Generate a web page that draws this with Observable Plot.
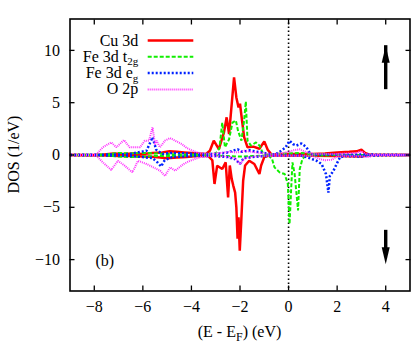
<!DOCTYPE html>
<html><head><meta charset="utf-8">
<script src="https://cdn.jsdelivr.net/npm/d3@7"></script>
<script src="https://cdn.jsdelivr.net/npm/@observablehq/plot@0.6"></script>
<style>body{margin:0;background:#fff} svg text{font-family:'Liberation Serif','Times New Roman',serif !important;}</style>
</head><body><div id="chart"></div>
<script>
// ---- data: [E - EF (eV), DOS (1/eV)] ----
const cuUp = [[-9,0],[-8,0],[-7.6,0.05],[-7.2,0.15],[-6.8,0.1],[-6.4,0.15],[-6,0.1],[-5.6,0.2],[-5.2,0.25],[-4.9,0.35],[-4.6,0.3],[-4.3,0.25],[-4,0.2],[-3.7,0.15],[-3.4,0.1],[-3.24,0.4],[-3.08,1.37],[-2.87,0.57],[-2.66,2.16],[-2.55,3.6],[-2.45,2.0],[-2.34,4.9],[-2.245,7.42],[-2.15,5.5],[-2.06,4.55],[-2.0,4.9],[-1.9,3.0],[-1.83,1.7],[-1.69,0.73],[-1.45,0.8],[-1.2,0.6],[-1.0,1.3],[-0.86,0.5],[-0.7,0.05],[-0.4,0.1],[0,0.1],[0.5,0.1],[1,0.1],[1.5,0.15],[2,0.25],[2.5,0.3],[2.8,0.35],[3.0,0.5],[3.15,0.2],[3.3,0.05],[3.5,0],[5,0]];
const cuDn = [[-9,0],[-7.5,-0.05],[-7,-0.1],[-6.5,-0.1],[-6,-0.15],[-5.5,-0.2],[-5,-0.3],[-4.6,-0.25],[-4.2,-0.2],[-3.8,-0.1],[-3.3,-0.1],[-3.14,-0.5],[-3.05,-2.77],[-2.94,-1.02],[-2.73,-1.34],[-2.59,-0.7],[-2.49,-4.05],[-2.42,-1.0],[-2.34,-2.3],[-2.28,-2.9],[-2.2,-3.6],[-2.15,-5.0],[-2.1,-8.0],[-2.06,-5.96],[-2.01,-9.15],[-1.95,-6.4],[-1.87,-2.46],[-1.79,-1.0],[-1.62,-0.55],[-1.41,-0.86],[-1.2,-1.82],[-1.13,-1.0],[-1.0,-0.2],[-0.8,-0.05],[0,-0.05],[2,-0.1],[3,-0.15],[3.3,0],[5,0]];
const t2gUp = [[-9,0],[-7.5,0.05],[-7,0.2],[-6.5,0.15],[-6,0.2],[-5.5,0.15],[-5,0.1],[-4.5,0.05],[-3.5,0.05],[-3.0,0.15],[-2.85,0.6],[-2.73,3.1],[-2.62,0.73],[-2.45,1.5],[-2.31,3.1],[-2.17,3.3],[-2.08,2.3],[-1.94,1.37],[-1.83,3.3],[-1.76,5.12],[-1.69,1.37],[-1.55,0.9],[-1.34,1.2],[-1.2,0.9],[-1.06,0.2],[-0.9,0.05],[0,0.15],[0.5,0.2],[1.0,0.1],[1.5,0.05],[2,0],[5,0]];
const t2gDn = [[-9,0],[-7.5,-0.05],[-7,-0.15],[-6.5,-0.2],[-6,-0.15],[-5.5,-0.1],[-5,-0.1],[-4,-0.05],[-3,-0.05],[-2.5,-0.1],[-2,-0.15],[-1.5,-0.1],[-1,-0.05],[-0.8,-0.1],[-0.68,-0.38],[-0.58,-1.18],[-0.37,-1.66],[-0.16,-1.82],[-0.03,-2.77],[0.04,-6.6],[0.11,-3.1],[0.16,-0.7],[0.25,-1.82],[0.39,-5.3],[0.46,-1.34],[0.57,-0.38],[0.7,-0.05],[1.5,-0.05],[2,0],[5,0]];
const egUp = [[-9,0],[-7,0.05],[-6.5,0.1],[-6.1,0.3],[-5.85,0.4],[-5.6,1.7],[-5.45,0.5],[-5.2,0.1],[-4.8,0.2],[-4.2,0.15],[-3.6,0.1],[-3,0.1],[-2.6,0.2],[-2.3,0.4],[-2.1,0.55],[-1.9,0.3],[-1.6,0.45],[-1.3,0.3],[-1.0,0.2],[-0.7,0.05],[-0.51,0.1],[-0.3,0.41],[-0.12,0.73],[0.04,1.37],[0.18,1.05],[0.32,0.9],[0.53,1.1],[0.74,0.73],[0.87,0.2],[1.0,0.05],[2,0.05],[3,0.05],[5,0]];
const egDn = [[-9,0],[-7,-0.05],[-6.5,-0.1],[-6,-0.2],[-5.6,-0.3],[-5.4,-0.7],[-5.25,-1.1],[-5.1,-0.5],[-4.8,-0.2],[-4,-0.1],[-3,-0.1],[-2.5,-0.2],[-2.2,-0.4],[-2.0,-0.85],[-1.85,-0.3],[-1.5,-0.2],[-1,-0.1],[-0.5,-0.05],[0.5,-0.05],[0.87,-0.3],[1.15,-0.55],[1.36,-0.86],[1.54,-1.82],[1.64,-3.6],[1.7,-2.0],[1.85,-1.5],[1.98,-0.86],[2.12,-0.2],[2.4,-0.1],[3,-0.15],[3.3,-0.05],[5,0]];
const o2pUp = [[-9,0],[-8.2,0.02],[-7.9,0.1],[-7.65,0.73],[-7.3,1.2],[-7.09,0.73],[-6.78,1.43],[-6.54,0.73],[-6.12,0.73],[-5.92,1.37],[-5.75,1.37],[-5.6,2.64],[-5.5,1.0],[-5.43,1.37],[-5.3,0.73],[-5.09,1.37],[-4.88,1.62],[-4.67,1.37],[-4.4,1.05],[-4.19,0.67],[-3.9,0.35],[-3.63,0.16],[-3.3,0.1],[-2.8,0.2],[-2.4,0.3],[-2.1,0.25],[-1.8,0.4],[-1.5,0.3],[-1.2,0.2],[-0.8,0.1],[-0.4,0.1],[0,0.3],[0.2,0.45],[0.45,0.55],[0.7,0.3],[1.0,0.1],[2,0.1],[2.8,0.2],[3.0,0.35],[3.2,0.1],[3.4,0],[5,0]];
const o2pDn = [[-9,0],[-8.2,-0.02],[-7.9,-0.1],[-7.65,-0.7],[-7.3,-1.43],[-7.03,-0.55],[-6.75,-1.02],[-6.43,-1.66],[-6.2,-0.55],[-5.85,-0.86],[-5.57,-1.18],[-5.29,-1.5],[-5.09,-2.0],[-4.88,-1.18],[-4.67,-1.5],[-4.32,-0.86],[-4.05,-0.54],[-3.63,-0.2],[-3.2,-0.1],[-2.6,-0.15],[-2.2,-0.3],[-2.0,-0.9],[-1.8,-0.3],[-1.4,-0.15],[-1,-0.1],[0,-0.05],[1,-0.1],[1.3,-0.4],[1.5,-0.5],[1.8,-0.45],[2.0,-0.1],[3,-0.1],[3.3,-0.2],[3.5,0],[5,0]];

const seriesNames = ["Cu 3d", "Fe 3d t", "Fe 3d e", "O 2p"];
const seriesSubs  = ["", "2g", "g", ""];
const seriesColors = ["#ff0000", "#11ee00", "#0022ff", "#ff33ff"];
const seriesDash = [null, "4,2", "2,2", "1,1"];
const seriesWidth = [2.5, 2, 2.5, 2];
const seriesData = [[cuUp, cuDn], [t2gUp, t2gDn], [egUp, egDn], [o2pUp, o2pDn]];

const xTicks = [-8, -6, -4, -2, 0, 2, 4];
const yTicks = [-10, -5, 0, 5, 10];
const spinArrows = [{E: 4, from: 7.2, to: 10.45, dir: "up"}, {E: 4, from: -7.2, to: -10.45, dir: "down"}];
const panelLabel = "(b)";
const xLabelParts = ["(E - E", "F", ") (eV)"];
const yLabel = "DOS (1/eV)";

// ---- layout ----
const W = 415, H = 349;
const mL = 69.5, mR = 5.5, mT = 18.5, mB = 58.5;
const font = "'Liberation Serif', 'Times New Roman', serif";

const arrowHead = {
  draw(ctx) { ctx.moveTo(0, 0); ctx.lineTo(4, 17); ctx.lineTo(-4, 17); ctx.closePath(); }
};

const lineMarks = [];
seriesData.forEach((pair, i) => {
  pair.forEach(arr => {
    lineMarks.push(Plot.line(arr, {
      x: d => d[0], y: d => d[1],
      stroke: seriesColors[i], strokeWidth: seriesWidth[i],
      strokeDasharray: seriesDash[i] || undefined,
      strokeLinejoin: "miter", strokeLinecap: "butt"
    }));
  });
});

const plot = Plot.plot({
  width: W, height: H,
  marginLeft: mL, marginRight: mR, marginTop: mT, marginBottom: mB,
  style: {fontFamily: font, fontSize: "16px", color: "black", background: "white"},
  x: {domain: [-9, 5], label: null},
  y: {domain: [-13, 13], label: null},
  marks: [
    Plot.ruleX([0], {stroke: "black", strokeWidth: 1.6, strokeDasharray: "1.6,2.4"}),
    ...lineMarks,
    Plot.ruleX(spinArrows.filter(d => d.dir === "up"), {x: "E", y1: "from", y2: "to", strokeWidth: 3.4, insetTop: 10}),
    Plot.ruleX(spinArrows.filter(d => d.dir === "down"), {x: "E", y1: "from", y2: "to", strokeWidth: 3.4, insetBottom: 10}),
    Plot.dot(spinArrows, {x: "E", y: "to", symbol: arrowHead, r: 4, fill: "black", stroke: null, rotate: d => d.dir === "up" ? 0 : 180}),
    Plot.text([panelLabel], {text: d => d, frameAnchor: "bottom-left", dx: 25.5, dy: -25.5, fontSize: 16, textAnchor: "start", lineAnchor: "bottom"}),
    Plot.axisX(xTicks, {anchor: "bottom", tickSize: -5, text: null, strokeWidth: 1.3}),
    Plot.axisX(xTicks, {anchor: "top", tickSize: -5, text: null, label: null, strokeWidth: 1.3}),
    Plot.axisY(yTicks, {anchor: "left", tickSize: -5, text: null, strokeWidth: 1.3}),
    Plot.axisY(yTicks, {anchor: "right", tickSize: -5, text: null, label: null, strokeWidth: 1.3}),
    Plot.axisX(xTicks, {anchor: "bottom", tickSize: 0, tickPadding: 10, label: null, fontSize: 16}),
    Plot.axisY(yTicks, {anchor: "left", tickSize: 0, tickPadding: 10, label: null, fontSize: 16}),
    Plot.frame({stroke: "black", strokeWidth: 1.6})
  ]
});

const svg = d3.select(plot);

// Legend (inside, top-left)
const legX = mL + 68.8, legY0 = mT + 27, legDy = 16.3;
const leg = svg.append("g").attr("font-family", font).attr("font-size", 16);
seriesNames.forEach((name, i) => {
  const by = legY0 + i * legDy;
  const t = leg.append("text").attr("x", legX).attr("y", by).attr("text-anchor", "end").attr("fill", "black");
  t.append("tspan").text(name);
  if (seriesSubs[i]) t.append("tspan").attr("font-size", 11).attr("dy", 3.5).text(seriesSubs[i]);
  leg.append("line")
    .attr("x1", legX + 9.4).attr("x2", legX + 55)
    .attr("y1", by - 5).attr("y2", by - 5)
    .attr("stroke", seriesColors[i]).attr("stroke-width", seriesWidth[i])
    .attr("stroke-dasharray", seriesDash[i]);
});

// Axis titles
const xl = svg.append("text").attr("x", mL + (W - mL - mR) / 2).attr("y", 336.5)
  .attr("text-anchor", "middle").attr("font-family", font).attr("font-size", 16).attr("fill", "black");
xl.append("tspan").text(xLabelParts[0]);
xl.append("tspan").attr("font-size", 12).attr("dy", 4).text(xLabelParts[1]);
xl.append("tspan").attr("dy", -4).text(xLabelParts[2]);

svg.append("text").attr("transform", `translate(18.5,${mT + (H - mT - mB) / 2}) rotate(-90)`)
  .attr("text-anchor", "middle").attr("font-family", font).attr("font-size", 16).attr("fill", "black")
  .text(yLabel);

document.getElementById("chart").appendChild(plot);
</script></body></html>
